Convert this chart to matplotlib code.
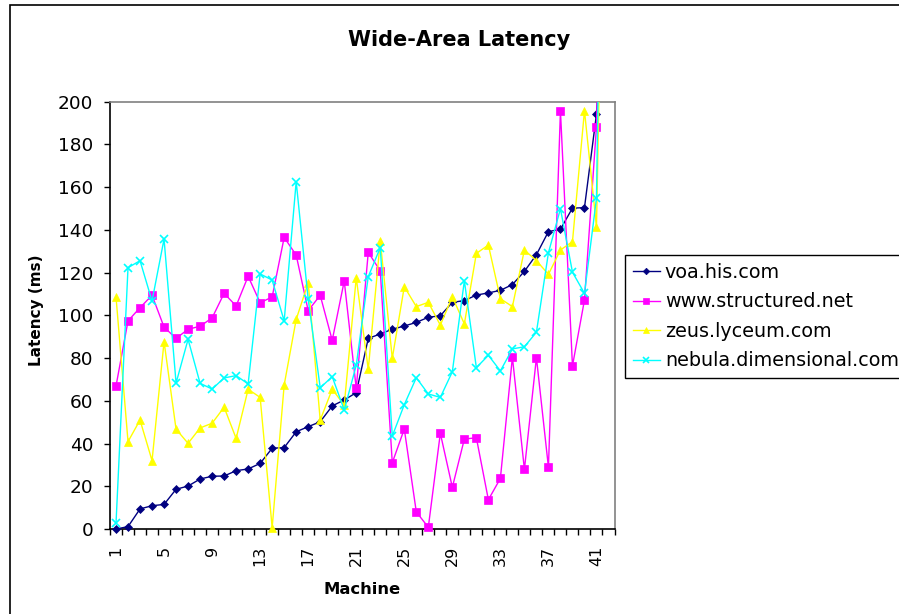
import numpy as np
import matplotlib
matplotlib.use("Agg")
import matplotlib.pyplot as plt
from matplotlib.patches import Rectangle

# Latency (ms) per machine; machine 42 is off the top of the axis
machines = np.arange(1, 43)
voa = [0, 1.1, 9.4, 10.9, 11.5, 18.6, 20.1, 23.4, 24.7, 24.8,
       27.3, 28.1, 30.7, 37.8, 38.1, 45.5, 47.9, 50.2, 57.6, 60.4,
       63.8, 89.2, 91.3, 93.5, 95.0, 96.7, 99.1, 99.8, 106.1, 106.9,
       109.5, 110.5, 111.7, 114.4, 120.6, 128.4, 139.2, 140.3, 150.2, 150.4,
       194.2, 280]
www = [66.9, 97.4, 103.6, 109.4, 94.5, 89.2, 93.5, 94.9, 98.8, 110.3,
       104.4, 118.3, 105.9, 108.6, 136.5, 128.2, 102.2, 109.4, 88.3, 116.1,
       65.8, 129.5, 120.8, 31.0, 46.8, 8.0, 0.8, 44.8, 19.5, 42.1,
       42.7, 13.7, 23.7, 80.4, 27.9, 80.2, 28.9, 195.8, 76.3, 107.2,
       188.3, 420]
zeus = [108.7, 40.9, 51.0, 32.0, 87.7, 46.7, 40.1, 47.3, 49.5, 57.0,
        42.4, 65.4, 61.6, 0.6, 67.4, 98.1, 115.3, 51.0, 65.4, 58.0,
        117.6, 74.7, 134.9, 79.9, 113.4, 104.1, 106.1, 95.4, 108.7, 96.0,
        129.0, 132.9, 107.8, 104.1, 130.6, 125.6, 119.2, 130.6, 134.5, 195.8,
        141.5, 430]
nebula = [2.6, 122.3, 125.6, 106.7, 135.7, 68.3, 88.8, 68.2, 65.5, 70.7,
          71.8, 67.9, 119.4, 116.5, 97.4, 162.6, 107.5, 66.1, 71.3, 55.7,
          76.6, 118.1, 131.7, 43.5, 58.2, 70.8, 63.2, 61.6, 73.6, 116.2,
          75.5, 81.3, 74.0, 84.3, 85.3, 92.1, 129.3, 149.9, 120.2, 110.3,
          154.8, 530]

series = [
    ("voa.his.com", voa, "#000080", "D", 4.4),
    ("www.structured.net", www, "#FF00FF", "s", 5.2),
    ("zeus.lyceum.com", zeus, "#FFFF00", "^", 6.0),
    ("nebula.dimensional.com", nebula, "#00FFFF", "x", 5.8),
]
xtick_labels = [str(m) for m in range(1, 42, 4)]

fig = plt.figure(figsize=(8.99, 6.14), dpi=100)
ax = fig.add_axes([110 / 899, 1 - 529 / 614, 504.5 / 899, 427.3 / 614])

n_vis = 41
for i, (name, vals, col, mk, ms) in enumerate(series):
    v = np.asarray(vals, dtype=float)
    # visible machines: markers may overlap the axes edge
    ax.plot(machines[:n_vis], v[:n_vis], color=col, lw=1.0, marker=mk,
            ms=ms, mew=1.2 if mk == "x" else 0.5, mec=col, mfc=col,
            clip_on=False, zorder=3 + i, label=name)
    # last segment shoots off the top, clipped to the plot area
    ax.plot(machines[n_vis - 1:], v[n_vis - 1:], color=col, lw=1.0,
            clip_on=True, zorder=3 + i)

ax.set_xlim(0.5, 42.5)
ax.set_ylim(0, 200)
ax.set_yticks(np.arange(0, 201, 20))
ax.set_xticks(np.arange(1, 42, 4))
ax.set_xticklabels(xtick_labels, rotation=90, fontsize=11.5)
ax.set_xticks(np.arange(0.5, 43, 1), minor=True)
ax.tick_params(axis="x", which="major", length=0, pad=12)
ax.tick_params(axis="x", which="minor", length=4.5, width=1, direction="out")
ax.tick_params(axis="y", length=4.5, width=1, pad=7.5, labelsize=13.3)
for s in ("left", "bottom"):
    ax.spines[s].set_color("black")
    ax.spines[s].set_linewidth(1.2)
for s in ("top", "right"):
    ax.spines[s].set_color("#808080")
    ax.spines[s].set_linewidth(1.2)

fig.text(459.5 / 899, 1 - 40 / 614, "Wide-Area Latency", ha="center",
         va="center", fontsize=15, fontweight="bold")
fig.text(362 / 899, 1 - 590 / 614, "Machine", ha="center", va="center",
         fontsize=11.8, fontweight="bold")
fig.text(37 / 899, 1 - 310 / 614, "Latency (ms)", ha="center", va="center",
         rotation=90, fontsize=11, fontweight="bold")

leg = ax.legend(loc="upper left", bbox_to_anchor=(625 / 899, 1 - 255 / 614),
                bbox_transform=fig.transFigure, borderaxespad=0,
                fontsize=13.8, frameon=True, fancybox=False, framealpha=1,
                edgecolor="black", borderpad=0.4, handlelength=1.4,
                handletextpad=0.28, labelspacing=0.55, markerscale=0.75)
leg.get_frame().set_linewidth(1.0)

# outer chart border (right and bottom edges lie outside the picture)
fig.patches.append(Rectangle((9.5 / 899, -1), 2, 2 - 5 / 614,
                             transform=fig.transFigure, fill=False,
                             edgecolor="black", lw=1.2))

fig.savefig("out.png", dpi=100)
